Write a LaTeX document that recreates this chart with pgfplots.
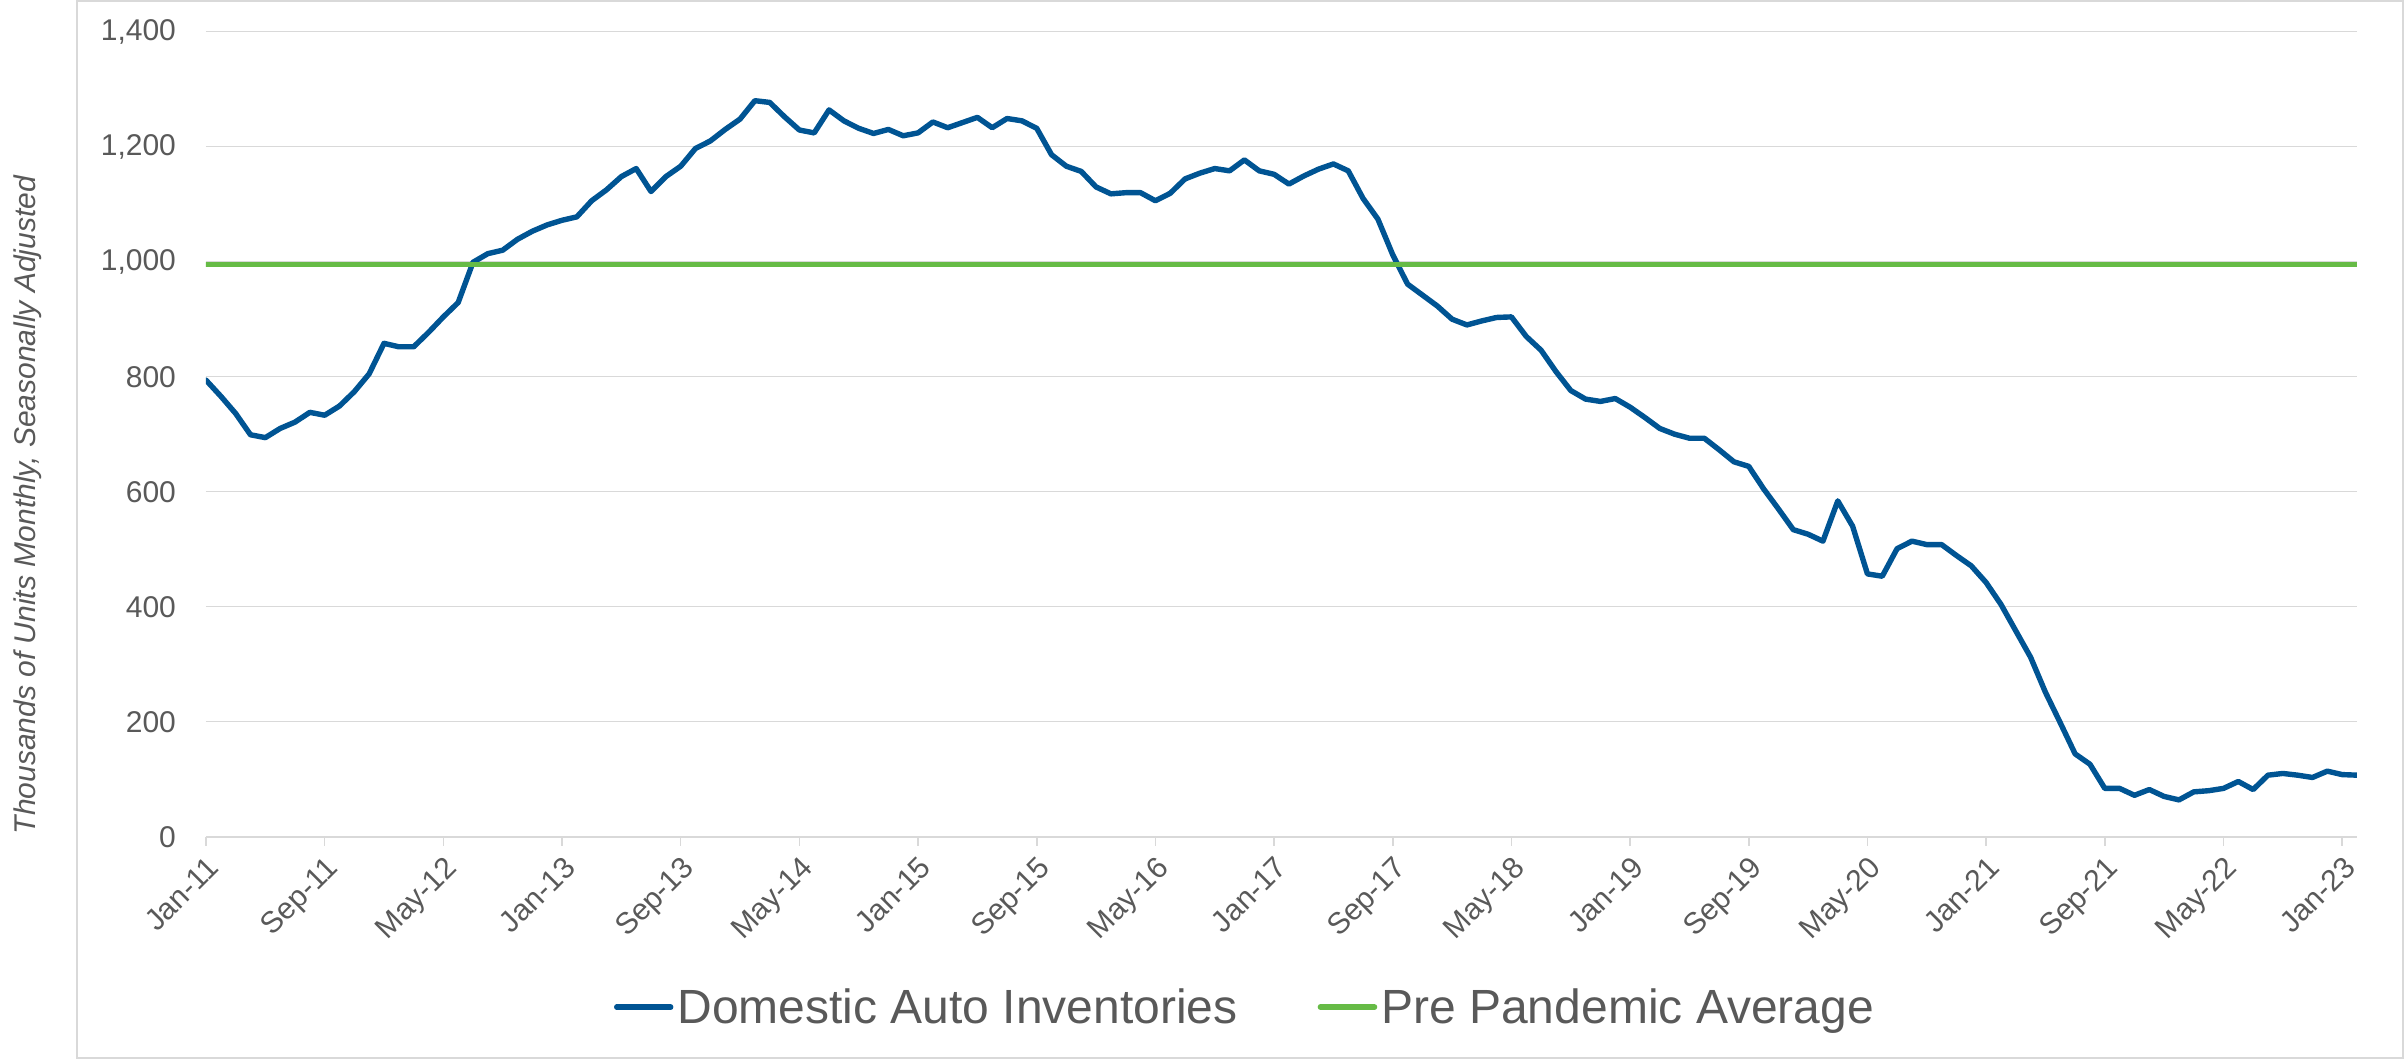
\documentclass[border=0pt]{standalone}
\usepackage{fontspec}
\setmainfont{Liberation Sans}
\usepackage{pgfplots}
\usepackage{pgfplotstable}
\pgfplotsset{compat=1.18}
\definecolor{tgray}{RGB}{89,89,89}
\definecolor{gridc}{RGB}{217,217,217}
\definecolor{invblue}{RGB}{0,84,147}
\definecolor{avggreen}{RGB}{102,187,70}
\pgfplotstableread{
m v
0 794
1 766
2 736
3 699
4 694
5 710
6 721
7 738
8 733
9 749
10 774
11 805
12 858
13 852
14 852
15 877
16 904
17 929
18 999
19 1014
20 1020
21 1039
22 1053
23 1064
24 1072
25 1078
26 1106
27 1125
28 1148
29 1162
30 1122
31 1148
32 1166
33 1197
34 1210
35 1230
36 1248
37 1280
38 1277
39 1252
40 1229
41 1224
42 1264
43 1245
44 1232
45 1223
46 1230
47 1219
48 1224
49 1243
50 1233
51 1242
52 1251
53 1233
54 1249
55 1245
56 1232
57 1186
58 1166
59 1157
60 1130
61 1118
62 1120
63 1120
64 1106
65 1119
66 1144
67 1154
68 1162
69 1158
70 1177
71 1158
72 1152
73 1135
74 1149
75 1161
76 1170
77 1158
78 1110
79 1074
80 1012
81 961
82 942
83 923
84 900
85 890
86 897
87 903
88 904
89 870
90 846
91 809
92 776
93 761
94 757
95 762
96 747
97 729
98 710
99 700
100 693
101 693
102 673
103 652
104 644
105 605
106 570
107 534
108 526
109 514
110 584
111 540
112 457
113 453
114 501
115 514
116 508
117 508
118 489
119 471
120 442
121 404
122 358
123 312
124 251
125 198
126 144
127 126
128 84
129 84
130 72
131 82
132 70
133 64
134 78
135 80
136 84
137 96
138 82
139 107
140 110
141 107
142 103
143 114
144 108
145 107
}\invdata
\begin{document}
\begin{tikzpicture}
\useasboundingbox (-103pt,-111.65pt) rectangle (1099.5pt,418.35pt);
\draw[gridc, line width=1pt] (-64.5pt,-110.65pt) rectangle (1098.5pt,417.85pt);
\begin{axis}[
  width=1075.5pt, height=402.5pt, scale only axis,
  xmin=0, xmax=145, ymin=0, ymax=1400,
  axis x line*=bottom, axis y line*=left,
  y axis line style={draw=none},
  x axis line style={gridc, line width=0.8pt, -},
  ytick={0,200,...,1400},
  ymajorgrids, grid style={gridc, line width=0.8pt},
  ytick style={draw=none},
  xtick={0,8,...,144},
  xticklabels={Jan-11,Sep-11,May-12,Jan-13,Sep-13,May-14,Jan-15,Sep-15,May-16,Jan-17,Sep-17,May-18,Jan-19,Sep-19,May-20,Jan-21,Sep-21,May-22,Jan-23},
  xtick style={gridc, line width=0.8pt},
  xtick align=outside, major tick length=4.5pt,
  /pgf/number format/assume math mode=true,
  /pgf/number format/1000 sep={,},
  ticklabel style={font=\fontsize{15}{18}\selectfont, text=tgray},
  yticklabel style={anchor=east, xshift=-11.5pt},
  xticklabel style={rotate=45, anchor=north east, inner sep=3pt},
  ylabel={\itshape Thousands of Units Monthly, Seasonally Adjusted},
  ylabel style={at={(axis description cs:-0.0828,0.412)}, anchor=center, rotate=0, font=\fontsize{15}{18}\selectfont, text=tgray},
  legend style={at={(axis description cs:0.4835,-0.2117)}, anchor=center, draw=none, fill=none,
    font=\fontsize{24}{28}\selectfont, text=tgray, legend columns=2,
    /tikz/every even column/.append style={column sep=38pt}},
  legend cell align=left,
  legend image code/.code={\draw[#1, line cap=round] (0pt,0pt) -- (27pt,0pt);},
]
\addplot[invblue, line width=2.7pt, line join=round, line cap=round] table[x=m, y=v] {\invdata};
\addlegendentry{Domestic Auto Inventories}
\addplot[avggreen, line width=2.8pt, line cap=round] coordinates {(0,995) (145,995)};
\addlegendentry{Pre Pandemic Average}
\end{axis}
\end{tikzpicture}
\end{document}
